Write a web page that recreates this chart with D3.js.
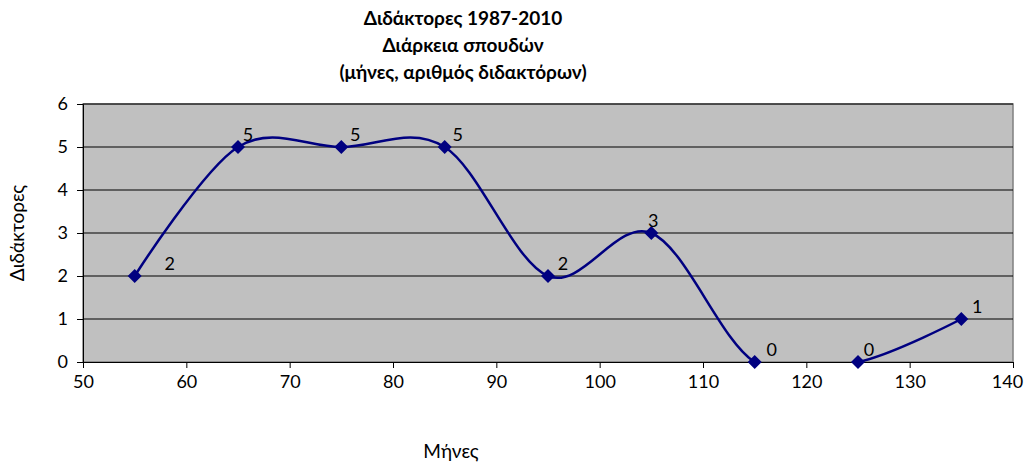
<!DOCTYPE html>
<html>
<head>
<meta charset="utf-8">
<script src="https://cdn.jsdelivr.net/npm/d3@7"></script>
<style>
  body { margin: 0; background: #fff; }
  text { font-family: Lato, "Open Sans", sans-serif; fill: #000; }
</style>
</head>
<body>
<div id="chart"></div>
<script>
// Data
const months = [55, 65, 75, 85, 95, 105, 115, 125, 135];
const doctors = [2, 5, 5, 5, 2, 3, 0, 0, 1];
const xTicks = [50, 60, 70, 80, 90, 100, 110, 120, 130, 140];
const yTicks = [0, 1, 2, 3, 4, 5, 6];
const titleLines = ['Διδάκτορες 1987-2010', 'Διάρκεια σπουδών', '(μήνες, αριθμός διδακτόρων)'];

// label nudges (Excel placed them a bit unevenly)
const labelDx = [35, 10, 14, 13, 15, 2, 17, 11, 16];

const W = 1027, H = 464;
const margin = { top: 104, right: 14, bottom: 102, left: 83 };
const width = W - margin.left - margin.right;
const height = H - margin.top - margin.bottom;

const svg = d3.select('#chart').append('svg')
    .attr('width', W).attr('height', H);

// title
svg.append('text')
    .attr('x', 463).attr('y', 25)
    .attr('text-anchor', 'middle')
    .style('font-size', '19px').style('font-weight', 'bold')
    .selectAll('tspan').data(titleLines).enter().append('tspan')
    .attr('x', 463).attr('dy', (d, i) => i === 0 ? 0 : 27)
    .text(d => d);

const g = svg.append('g').attr('transform', `translate(${margin.left},${margin.top})`);

const x = d3.scaleLinear().domain([50, 140]).range([0, width]);
const y = d3.scaleLinear().domain([0, 6]).range([height, 0]);

// plot background
g.append('rect')
    .attr('width', width).attr('height', height)
    .attr('fill', '#c0c0c0').attr('stroke', '#808080').attr('stroke-width', 1.5);

// gridlines
g.selectAll('.grid').data(yTicks.filter(d => d > 0)).enter().append('line')
    .attr('x1', 0).attr('x2', width)
    .attr('y1', d => y(d)).attr('y2', d => y(d))
    .attr('stroke', '#000').attr('stroke-width', 1);

// axes
const xAxis = g.append('g')
    .attr('transform', `translate(0,${height})`)
    .call(d3.axisBottom(x).tickValues(xTicks).tickFormat(d3.format('d')).tickSize(6).tickPadding(7));
const yAxis = g.append('g')
    .call(d3.axisLeft(y).tickValues(yTicks).tickFormat(d3.format('d')).tickSize(6).tickPadding(9));
[xAxis, yAxis].forEach(a => {
    a.selectAll('text').style('font-size', '18px').style('font-family', 'Lato, "Open Sans", sans-serif');
    a.selectAll('line').attr('stroke', '#000');
    a.select('.domain').attr('stroke', '#000');
});
// keep the last x label inside the window
xAxis.selectAll('.tick text').filter(d => d === 140).attr('dx', -6);

// axis titles
svg.append('text')
    .attr('transform', `translate(24,${margin.top + height / 2}) rotate(-90)`)
    .attr('text-anchor', 'middle')
    .style('font-size', '19px')
    .text('Διδάκτορες');
svg.append('text')
    .attr('x', 451).attr('y', 458)
    .attr('text-anchor', 'middle')
    .style('font-size', '19px')
    .text('Μήνες');

// smoothed line, clipped to plot area
svg.append('clipPath').attr('id', 'plotClip')
    .append('rect').attr('width', width).attr('height', height);

const points = months.map((m, i) => ({ m, v: doctors[i], i }));

g.append('path')
    .datum(points)
    .attr('clip-path', 'url(#plotClip)')
    .attr('fill', 'none')
    .attr('stroke', '#000080')
    .attr('stroke-width', 2.5)
    .attr('d', d3.line().x(d => x(d.m)).y(d => y(d.v)).curve(d3.curveCardinal.tension(0)));

// markers
g.selectAll('.marker').data(points).enter().append('path')
    .attr('transform', d => `translate(${x(d.m)},${y(d.v)})`)
    .attr('d', 'M0,-7L7,0L0,7L-7,0Z')
    .attr('fill', '#000080');

// data labels
g.selectAll('.lbl').data(points).enter().append('text')
    .attr('x', d => x(d.m) + labelDx[d.i])
    .attr('y', d => y(d.v) - 6)
    .attr('text-anchor', 'middle')
    .style('font-size', '18px')
    .text(d => d.v);
</script>
</body>
</html>
